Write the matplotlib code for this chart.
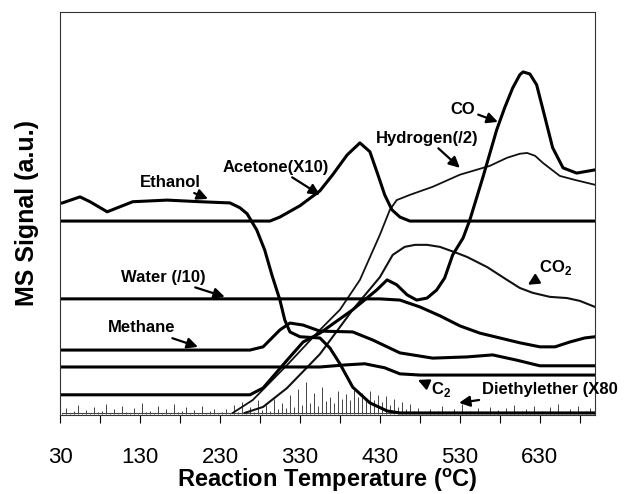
import matplotlib.pyplot as plt

plt.rcParams['font.family'] = ['Liberation Sans', 'DejaVu Sans']

# Datos (temperatura en C, senal en unidades arbitrarias 0-100)
t_ethanol = [33, 55, 67.5, 89, 121, 164, 205, 242.5, 255, 264, 276, 286, 295, 305, 311, 317.5, 330, 355, 367.5, 380, 396, 417.5, 439, 455, 699]
s_ethanol = [52.6, 54.1, 52.9, 50.4, 52.9, 53.3, 52.9, 52.6, 51.4, 49.9, 45.9, 40.9, 34.7, 28.5, 23.6, 20.6, 19.4, 19.1, 16.6, 12.7, 6.9, 3.0, 1.0, 0.5, 0.5]

t_acetone = [33, 292.5, 305, 330, 355, 371, 389, 405, 417.5, 427.5, 436, 445, 455, 467.5, 699]
s_acetone = [48.1, 48.1, 49.1, 51.9, 55.6, 59.6, 64.5, 67.5, 65.3, 59.6, 54.6, 50.9, 49.1, 48.1, 48.1]

t_hydrogen = [246, 271, 314, 355, 380, 405, 430, 442.5, 451, 467.5, 496, 530, 567.5, 589, 605, 614, 624, 634, 655, 674, 699]
s_hydrogen = [0.5, 3.7, 12.4, 21.1, 26.1, 33.5, 44.7, 50.9, 53.3, 54.6, 56.6, 59.6, 61.8, 63.8, 64.8, 65.0, 64.3, 62.5, 59.3, 58.3, 57.1]

t_co2 = [261, 284, 314, 355, 396, 430, 446, 461, 474, 489, 505, 526, 539, 564, 589, 605, 621, 642.5, 664, 680, 699]
s_co2 = [0.5, 2.0, 6.7, 15.1, 26.1, 34.2, 39.7, 41.7, 42.2, 42.2, 41.7, 40.2, 39.2, 36.7, 33.5, 31.5, 30.3, 29.3, 29.0, 28.3, 26.8]

t_co = [33, 267.5, 284, 314, 334, 355, 396, 426, 439, 451, 464, 476, 489, 501, 511, 521, 534, 542.5, 559, 576, 586, 596, 605, 609, 617.5, 626, 634, 646, 659, 676, 699]
s_co = [5.0, 5.0, 6.7, 13.6, 18.1, 20.3, 26.1, 31.0, 33.5, 32.3, 29.8, 28.5, 29.0, 31.0, 34.0, 39.7, 43.9, 48.4, 59.1, 70.7, 76.2, 81.1, 84.4, 85.1, 84.6, 81.9, 75.7, 66.3, 61.3, 60.0, 60.8]

t_water = [33, 430, 455, 480, 505, 530, 555, 580, 605, 630, 649, 667.5, 686, 699]
s_water = [28.8, 28.8, 28.5, 26.8, 24.6, 22.1, 20.3, 19.1, 17.9, 16.9, 16.9, 18.1, 19.1, 19.4]

t_methane = [33, 267.5, 284, 305, 317.5, 334, 355, 396, 421, 455, 496, 539, 571, 601, 630, 699]
s_methane = [16.1, 16.1, 16.9, 21.1, 22.8, 22.3, 20.8, 20.6, 18.6, 15.4, 14.1, 14.4, 14.9, 13.6, 12.2, 12.2]

t_c2 = [33, 355, 386, 411, 436, 455, 480, 699]
s_c2 = [11.9, 11.9, 12.4, 12.7, 11.7, 10.2, 9.9, 9.9]

t_ether = list(range(33, 700, 5))
s_ether = [0.6, 1.8, 0.5, 0.9, 2.4, 0.6, 1.2, 0.5, 2.0, 0.7, 1.0, 2.6, 0.5, 1.4, 0.6, 2.2, 0.8, 0.5, 1.7, 0.6,
           3.0, 0.7, 1.1, 0.5, 2.1, 0.6, 1.5, 0.5, 2.8, 0.7, 0.9, 1.9, 0.5, 1.3, 0.6, 2.3, 0.5, 1.0, 1.6, 0.5, 0.8,
           1.5, 0.6, 2.4, 0.8, 3.2, 1.0, 2.0, 0.7, 3.6, 1.2, 2.5, 1.0, 4.0, 1.5, 3.0, 1.8, 5.0,
           2.0, 6.5, 2.5, 8.3, 3.0, 5.5, 2.2, 7.0, 3.5, 4.5, 3.0, 6.0, 4.0, 5.2, 3.8, 6.3, 4.5, 5.5, 4.2, 6.0,
           3.8, 5.0, 3.2, 4.6, 2.5, 4.0, 2.0, 3.2, 1.5, 2.6, 1.0, 1.8, 0.8,
           0.5, 1.5, 0.6, 1.0, 2.2, 0.5, 0.8, 1.6, 0.5, 2.6, 0.6, 1.1, 0.5, 1.8, 0.7, 0.5, 2.0, 0.6, 1.2, 0.5,
           1.7, 0.6, 2.4, 0.5, 0.9, 1.4, 0.5, 2.1, 0.7, 1.0, 0.5, 1.9, 0.6, 2.8, 0.8, 0.5, 1.5, 0.6, 2.2, 0.5,
           1.0, 1.7, 0.6]

tick_pos = [30, 80, 130, 180, 230, 280, 330, 380, 430, 480, 530, 580, 630, 680]
tick_lab = ['30', '', '130', '', '230', '', '330', '', '430', '', '530', '', '630', '']

fig = plt.figure(figsize=(6.27, 4.94), dpi=100)
ax = fig.add_axes([0.0957, 0.160, 0.8533, 0.816])

# ruido del dietileter como picos verticales sobre la linea base
ax.vlines(t_ether, 0.3, s_ether, color='#444444', lw=0.7)
ax.plot([33, 699], [0.4, 0.4], color='#444444', lw=0.8)
ax.plot(t_hydrogen, s_hydrogen, color='#111111', lw=1.3)
ax.plot(t_co2, s_co2, color='#111111', lw=1.5)
for t, s in [(t_ethanol, s_ethanol), (t_acetone, s_acetone), (t_co, s_co),
             (t_water, s_water), (t_methane, s_methane), (t_c2, s_c2)]:
    ax.plot(t, s, color='black', lw=2.2)

ax.set_xlim(30, 699)
ax.set_ylim(0, 100)
ax.set_yticks([])
ax.set_xticks(tick_pos)
ax.set_xticklabels(tick_lab, fontsize=16)
ax.tick_params(axis='x', direction='out', length=6, pad=17, width=0.8)
for sp in ax.spines.values():
    sp.set_linewidth(0.8)
    sp.set_color('#333333')

ax.set_xlabel(r'Reaction Temperature ($^{\mathregular{o}}$C)', fontsize=17, fontweight='bold', labelpad=-1)
ax.set_ylabel('MS Signal (a.u.)', fontsize=18, fontweight='bold', labelpad=15)

arr = dict(arrowstyle='-|>', color='black', lw=1.6, mutation_scale=16, shrinkA=0, shrinkB=0)
notes = [
    ('Ethanol', (215, 53.6), (167.5, 57.6)),
    ('Acetone(X10)', (355, 54.6), (300, 61.5)),
    ('Hydrogen(/2)', (530, 61.3), (489, 68.7)),
    ('CO', (577.5, 72.7), (534, 75.9)),
    ('Water (/10)', (236, 29.3), (159, 34.2)),
    ('Methane', (202.5, 16.9), (132.5, 21.6)),
]
for txt, xy, xyt in notes:
    ax.annotate(txt, xy=xy, xytext=xyt, fontsize=12, fontweight='bold', ha='center', va='center',
                arrowprops=arr)
ax.annotate(r'CO$_{\mathregular{2}}$', xy=(615, 32.3), xytext=(650, 36.5), fontsize=12,
            fontweight='bold', ha='center', va='center', arrowprops=arr)
ax.annotate(r'C$_{\mathregular{2}}$', xy=(477.5, 8.7), xytext=(506, 6.2), fontsize=12,
            fontweight='bold', ha='center', va='center', arrowprops=arr)
ax.annotate('Diethylether (X80', xy=(529, 3.0), xytext=(557.5, 6.2), fontsize=12,
            fontweight='bold', ha='left', va='center', arrowprops=arr, annotation_clip=False)

fig.savefig('out.png', dpi=100)
